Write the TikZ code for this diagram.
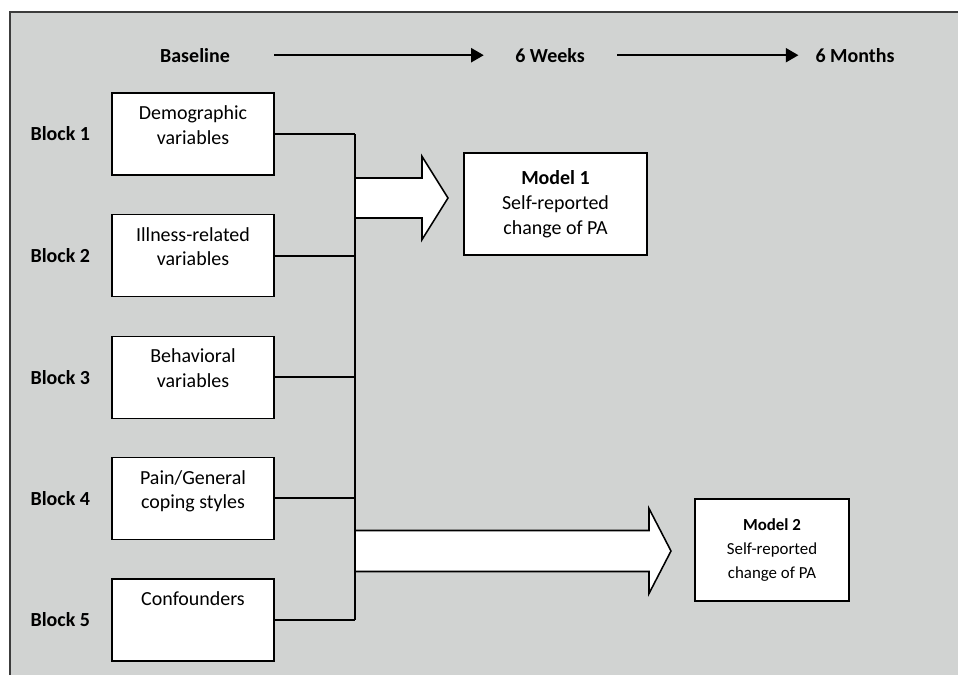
\documentclass[tikz,border=0pt]{standalone}
\usepackage{fontspec}
\setmainfont{Carlito}
\definecolor{bggray}{RGB}{209, 211, 210}
\definecolor{framegray}{RGB}{60, 60, 60}
\usepackage{tikz}
\usetikzlibrary{arrows.meta, positioning, calc}

\begin{document}
\begin{tikzpicture}[
  vbox/.style={draw, fill=white, line width=1pt, minimum width=4.05cm, minimum height=2.05cm, inner sep=0pt},
  vtxt/.style={anchor=north, align=center, inner sep=0pt, yshift=-0.33cm, font=\fontsize{14.2}{17.6}\selectfont},
  blk/.style={inner sep=0pt, font=\fontsize{14.2}{17.6}\selectfont\bfseries},
  tlabel/.style={inner sep=0pt, font=\fontsize{14.2}{17.6}\selectfont\bfseries},
  tline/.style={line width=1.4pt, -{Triangle[length=9pt, width=10pt]}},
  mbox/.style={draw, fill=white, line width=1pt, align=center, inner sep=0pt},
  bus/.style={line width=1.3pt},
  fat/.style={draw, fill=white, line width=1.1pt, line join=miter}
]
  \useasboundingbox (0, 0) rectangle (23.95, -16.875);
  \fill[bggray] (0.25, -0.3) rectangle (23.95, -16.875);
  \draw[framegray, line width=1.1pt] (0.25, -16.875) -- (0.25, -0.3) -- (23.95, -0.3);

  \node[tlabel] (base) at (4.875, -1.38) {Baseline};
  \node[tlabel] (wk6) at (13.75, -1.38) {6 Weeks};
  \node[tlabel] (mo6) at (21.375, -1.38) {6 Months};
  \draw[tline, shorten <=1.1cm, shorten >=0.78cm] (base.east) -- (wk6.west);
  \draw[tline, shorten <=0.8cm, shorten >=0.42cm] (wk6.east) -- (mo6.west);

  \node[vbox, label={[vtxt]north:Demographic\\variables}] (b1) at (4.825, -3.35) {};
  \node[vbox, label={[vtxt]north:Illness-related\\variables}] (b2) at (4.825, -6.39) {};
  \node[vbox, label={[vtxt]north:Behavioral\\variables}] (b3) at (4.825, -9.43) {};
  \node[vbox, label={[vtxt]north:Pain/General\\coping styles}] (b4) at (4.825, -12.46) {};
  \node[vbox, label={[vtxt]north:Confounders}] (b5) at (4.825, -15.5) {};

  \node[blk, left=0.525cm of b1] (l1) {Block 1};
  \node[blk, left=0.525cm of b2] (l2) {Block 2};
  \node[blk, left=0.525cm of b3] (l3) {Block 3};
  \node[blk, left=0.525cm of b4] (l4) {Block 4};
  \node[blk, left=0.525cm of b5] (l5) {Block 5};

  \coordinate (bus) at (8.875, 0);
  \draw[bus] (b1.east) -- (b1.east -| bus);
  \draw[bus] (b2.east) -- (b2.east -| bus);
  \draw[bus] (b3.east) -- (b3.east -| bus);
  \draw[bus] (b4.east) -- (b4.east -| bus);
  \draw[bus] (b5.east) -- (b5.east -| bus);
  \draw[bus] (b1.east -| bus) -- (b5.east -| bus);

  \coordinate (a1) at (8.875, -4.95);
  \coordinate (a2) at (8.875, -13.775);
  \path[fat] (a1) +(0, 0.5) -- +(1.675, 0.5) -- +(1.675, 1.04) -- +(2.325, 0)
    -- +(1.675, -1.04) -- +(1.675, -0.5) -- +(0, -0.5) -- cycle;
  \path[fat] (a2) +(0, 0.5125) -- +(7.35, 0.5125) -- +(7.35, 1.0625) -- +(7.9, 0)
    -- +(7.35, -1.0625) -- +(7.35, -0.5125) -- +(0, -0.5125) -- cycle;

  \node[mbox, minimum width=4.575cm, minimum height=2.55cm, font=\fontsize{14.2}{17.6}\selectfont] (m1) at (13.8875, -5.1) {
    \textbf{Model 1}\\
    Self-reported\\
    change of PA
  };
  \node[mbox, minimum width=3.85cm, minimum height=2.55cm, font=\fontsize{12}{17.4}\selectfont] (m2) at (19.3, -13.75) {
    \textbf{Model 2}\\
    Self-reported\\
    change of PA
  };
\end{tikzpicture}
\end{document}
